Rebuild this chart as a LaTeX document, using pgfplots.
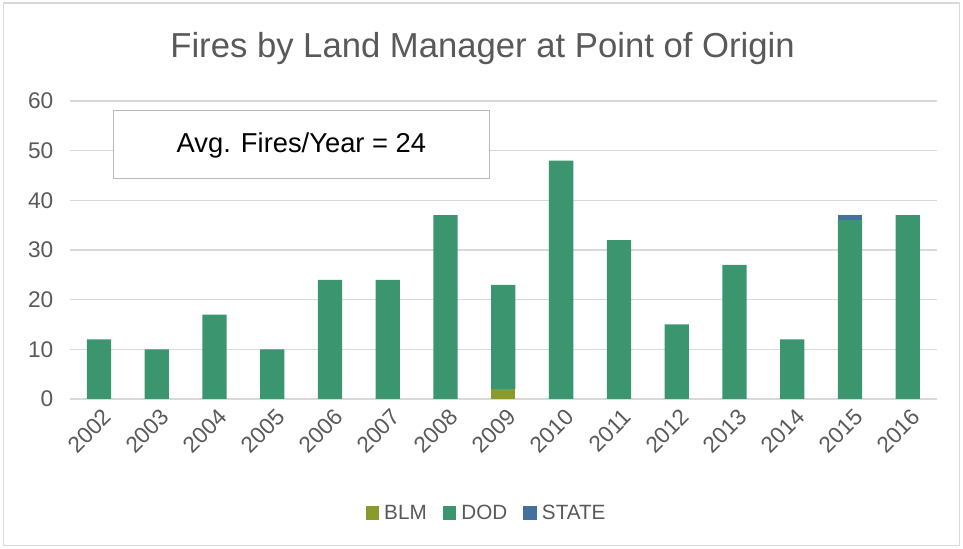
\documentclass[border=0pt]{standalone}
\usepackage{fontspec}
\setmainfont{Liberation Sans}
\usepackage{pgfplots}
\pgfplotsset{compat=1.18}
\definecolor{blm}{HTML}{8A9B2C}
\definecolor{dod}{HTML}{3B9670}
\definecolor{state}{HTML}{44709E}
\definecolor{txtgray}{HTML}{595959}
\definecolor{gridgray}{HTML}{D9D9D9}

\begin{document}
\begin{tikzpicture}
\useasboundingbox (-52.5pt,-112.5pt) rectangle (669.75pt,299.25pt);
\draw[gridgray, line width=0.8pt] (-50pt,-110pt) rectangle (667pt,297pt);
\begin{axis}[
  scale only axis,
  width=650pt, height=223.5pt,
  ybar stacked, bar width=0.42,
  xmin=-0.5, xmax=14.5,
  ymin=0, ymax=60,
  ytick={0,10,...,60},
  xtick={0,...,14},
  xticklabels={2002,2003,2004,2005,2006,2007,2008,2009,2010,2011,2012,2013,2014,2015,2016},
  major tick length=0pt,
  ymajorgrids, grid style={gridgray, line width=0.8pt},
  separate axis lines,
  axis x line*=bottom, axis y line*=left,
  x axis line style={gridgray, line width=0.8pt, -},
  y axis line style={draw=none, -},
  /pgf/number format/assume math mode=true,
  tick label style={font=\fontsize{17}{19}\selectfont, text=txtgray},
  xticklabel style={rotate=45, anchor=north east, inner sep=1pt, yshift=-5pt, xshift=-2pt},
  yticklabel style={xshift=-9pt},
  title={Fires by Land Manager at Point of Origin},
  title style={font=\fontsize{26}{29}\selectfont, text=txtgray, at={(axis description cs:0.476,1.15)}, anchor=center},
  legend style={at={(axis description cs:0.481,-0.383)}, anchor=center, draw=none,
    legend columns=3, font=\fontsize{15.5}{17}\selectfont, text=txtgray,
    /tikz/every odd column/.append style={column sep=2pt},
    /tikz/every even column/.append style={column sep=10pt}},
  legend image code/.code={\fill[#1] (0pt,-5pt) rectangle (10pt,5pt);},
]
\addplot[fill=blm, draw=none] coordinates {
  (0,0) (1,0) (2,0) (3,0) (4,0) (5,0) (6,0) (7,2) (8,0) (9,0) (10,0) (11,0) (12,0) (13,0) (14,0)};
\addlegendentry{BLM}
\addplot[fill=dod, draw=none] coordinates {
  (0,12) (1,10) (2,17) (3,10) (4,24) (5,24) (6,37) (7,21) (8,48) (9,32) (10,15) (11,27) (12,12) (13,36) (14,37)};
\addlegendentry{DOD}
\addplot[fill=state, draw=none] coordinates {
  (0,0) (1,0) (2,0) (3,0) (4,0) (5,0) (6,0) (7,0) (8,0) (9,0) (10,0) (11,0) (12,0) (13,1) (14,0)};
\addlegendentry{STATE}
\node[draw=gray!55, line width=0.8pt, fill=white, minimum width=282pt, minimum height=51pt,
  inner sep=0pt, font=\fontsize{20.5}{23}\selectfont, text=black] at (axis cs:3.505,51.15) {Avg. Fires/Year = 24};
\end{axis}
\end{tikzpicture}
\end{document}
